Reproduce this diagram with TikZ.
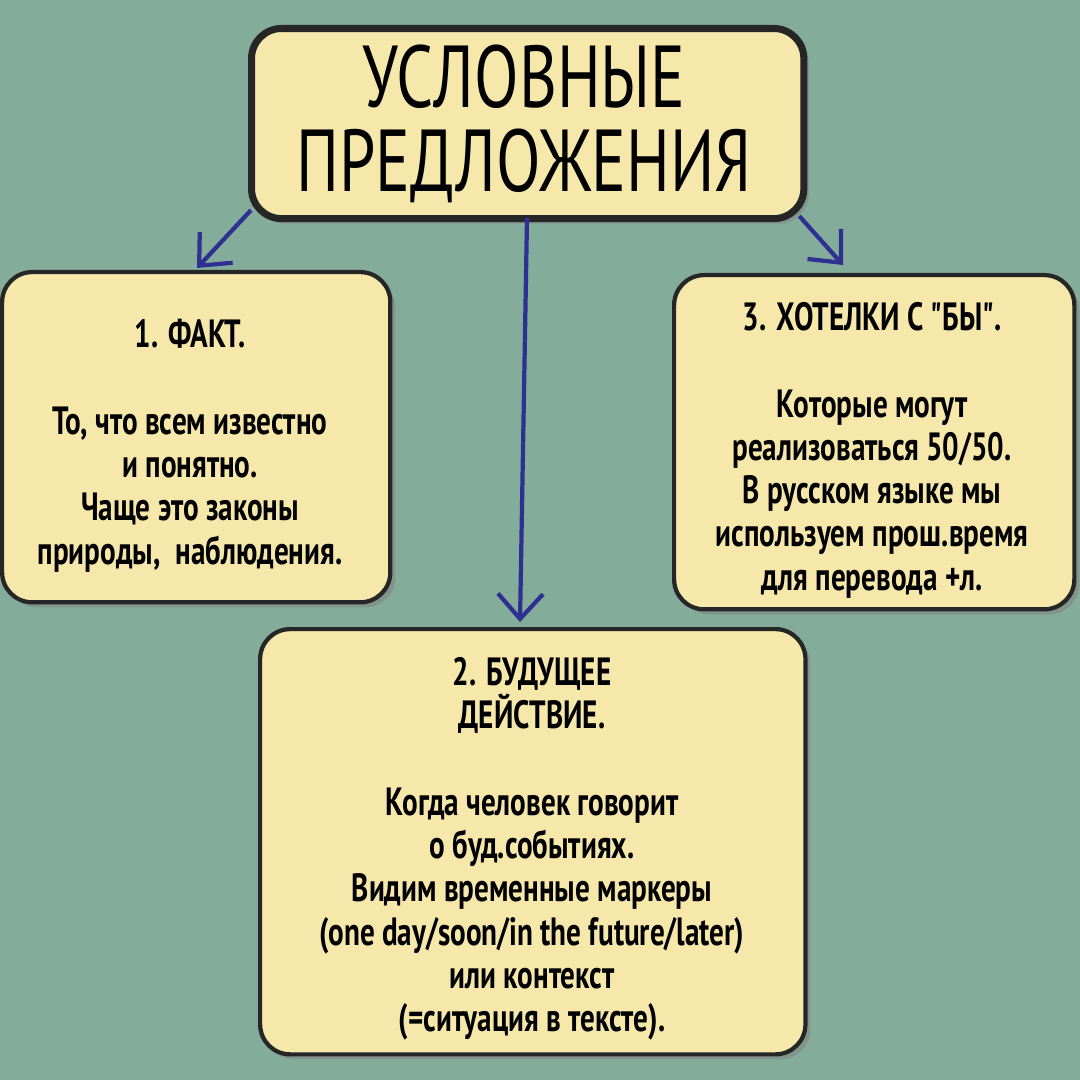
\documentclass[tikz,border=0pt]{standalone}
\usepackage{fontspec}
\setmainfont[FakeStretch=0.74]{PT Sans}
\newfontfamily\plainq[FakeStretch=0.74]{PT Sans}
\newcommand{\dq}{{\plainq\bfseries "}}
\usetikzlibrary{shadows,arrows.meta}
\definecolor{bg}{HTML}{84AC9A}
\definecolor{boxfill}{HTML}{F6E8AA}
\definecolor{arr}{HTML}{2E3192}
\tikzset{
 box/.style={draw=black!85,line width=1.2pt,fill=boxfill,rounded corners=0.3cm,
   drop shadow={shadow xshift=0.05cm,shadow yshift=-0.05cm,opacity=0.5},
   align=center,anchor=north west,inner sep=0pt},
 txt/.style={align=center,font=\bfseries\fontsize{11.2}{12.3}\selectfont,anchor=north},
 arrw/.style={arr,line width=1.2pt,-{Straight Barb[length=0.25cm,width=0.45cm]}}
}
\begin{document}
\begin{tikzpicture}[x=0.01cm,y=-0.01cm]
\fill[bg] (0,0) rectangle (1080,1080);
\useasboundingbox (0,0) rectangle (1080,1080);
\node[box,minimum width=5.52cm,minimum height=1.9cm,line width=2pt] (t) at (248,25) {};
\node[align=center,font=\fontsize{25}{23.9}\selectfont] at (524,124) {УСЛОВНЫЕ\\ПРЕДЛОЖЕНИЯ};
\node[box,minimum width=3.88cm,minimum height=3.3cm] (b1) at (0,270) {};
\node[txt] at (190,307) {1. ФАКТ.\\[12.3pt]То, что всем известно\\и понятно.\\Чаще это законы\\природы,\ \ наблюдения.};
\node[box,minimum width=4.0cm,minimum height=3.34cm] (b3) at (672,273) {};
\node[txt] at (872,290) {3. ХОТЕЛКИ С \dq БЫ\dq.\\[12.3pt]Которые могут\\реализоваться 50/50.\\В русском языке мы\\используем прош.время\\для перевода +л.};
\node[box,minimum width=5.45cm,minimum height=4.25cm] (b2) at (258,627) {};
\node[txt] at (532,645) {2. БУДУЩЕЕ\\ДЕЙСТВИЕ.\\[12.3pt]Когда человек говорит\\о буд.событиях.\\Видим временные маркеры\\(one day/soon/in the future/later)\\или контекст\\(=ситуация в тексте).};
\coordinate (e1) at (197,268);
\coordinate (e2) at (520,622);
\coordinate (e3) at (843,265);
\draw[arrw] (t.south west)++(3,-12) -- (e1);
\draw[arrw] (527,218) -- (e2);
\draw[arrw] (t.south east)++(-8,-6) -- (e3);
\end{tikzpicture}
\end{document}
